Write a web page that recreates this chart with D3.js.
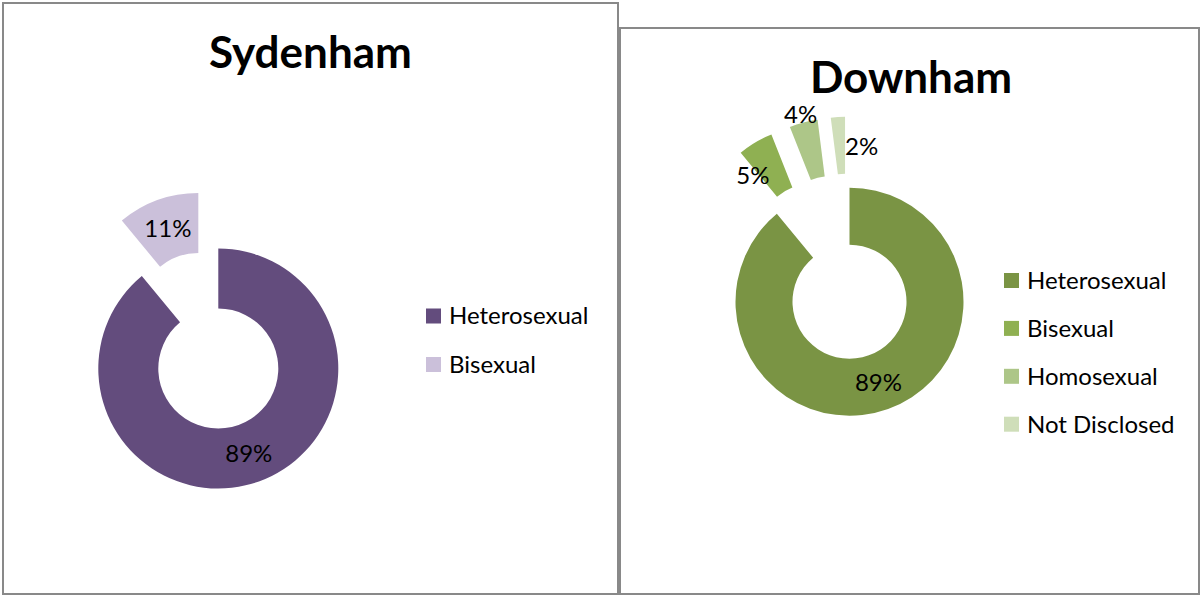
<!DOCTYPE html>
<html>
<head>
<meta charset="utf-8">
<script src="https://cdn.jsdelivr.net/npm/d3@7"></script>
<style>
  body { margin: 0; background: #ffffff; }
  svg { display: block; font-family: Lato, "Open Sans", sans-serif; }
</style>
</head>
<body>
<script>
'use strict';

// Sydenham data
const sydenhamCategories = ["Heterosexual", "Bisexual"];
const sydenhamValues = [89, 11];
const sydenhamColors = ["#634c7d", "#cbc0da"];

// Downham data
const downhamCategories = ["Heterosexual", "Bisexual", "Homosexual", "Not Disclosed"];
const downhamValues = [89, 5, 4, 2];
const downhamColors = ["#7a9444", "#8fb052", "#adc688", "#cfdeb9"];

(function () {

  let svg = d3.select("body")
    .append("svg")
    .attr("width", 1200)
    .attr("height", 595);

  // left panel
  drawPanel({
    box: [3, 3, 615, 591],
    title: "Sydenham",
    titleX: 310.5, titleY: 68,
    categories: sydenhamCategories,
    values: sydenhamValues,
    colors: sydenhamColors,
    cx: 218.3, cy: 368.5, outer: 120, inner: 60,
    explode: [0, 59],
    nudge: [[0, 0], [0, 0]],
    legendX: 426, legendY: 316, legendStep: 48.5
  });

  // right panel
  drawPanel({
    box: [620, 28, 579, 566],
    title: "Downham",
    titleX: 911, titleY: 93,
    categories: downhamCategories,
    values: downhamValues,
    colors: downhamColors,
    cx: 849.5, cy: 301.7, outer: 114, inner: 57,
    explode: [0, 71, 71, 71],
    nudge: [[0, 0], [-17, 9], [-10, -36], [22, 1]],
    legendX: 1004, legendY: 280.5, legendStep: 47.9
  });

  function drawPanel(cfg) {
    // frame
    svg.append("rect")
      .attr("x", cfg.box[0])
      .attr("y", cfg.box[1])
      .attr("width", cfg.box[2])
      .attr("height", cfg.box[3])
      .attr("fill", "#ffffff")
      .attr("stroke", "#898989")
      .attr("stroke-width", 2);

    svg.append("text")
      .attr("x", cfg.titleX)
      .attr("y", cfg.titleY)
      .attr("text-anchor", "middle")
      .style("font-size", "44px")
      .style("font-weight", "bold")
      .text(cfg.title);

    let color = d3.scaleOrdinal()
      .domain(cfg.categories)
      .range(cfg.colors);

    let pie = d3.pie()
      .sort(null)
      .value((d) => d);

    let arcs = pie(cfg.values);
    let total = d3.sum(cfg.values);
    let pct = d3.format(".0%");

    let arc = d3.arc()
      .innerRadius(cfg.inner)
      .outerRadius(cfg.outer);

    // offset of an exploded slice along its middle angle
    let shift = function (d, i) {
      let mid = (d.startAngle + d.endAngle) / 2;
      return [Math.sin(mid) * cfg.explode[i], -Math.cos(mid) * cfg.explode[i]];
    };

    let g = svg.append("g")
      .attr("transform", "translate(" + cfg.cx + "," + cfg.cy + ")");

    g.selectAll(".slice")
      .data(arcs)
      .enter()
      .append("path")
      .attr("class", "slice")
      .attr("transform", (d, i) => "translate(" + shift(d, i) + ")")
      .attr("fill", (d, i) => color(cfg.categories[i]))
      .attr("d", arc);

    g.selectAll(".lbl")
      .data(arcs)
      .enter()
      .append("text")
      .attr("class", "lbl")
      .attr("transform", function (d, i) {
        let c = arc.centroid(d);
        let s = shift(d, i);
        return "translate(" + (c[0] + s[0] + cfg.nudge[i][0]) + "," + (c[1] + s[1] + cfg.nudge[i][1]) + ")";
      })
      .attr("text-anchor", "middle")
      .attr("dy", "0.35em")
      .style("font-size", "24px")
      .attr("fill", "#000000")
      .text((d) => pct(d.data / total));

    // legend
    let legend = svg.selectAll(null)
      .data(cfg.categories)
      .enter()
      .append("g")
      .attr("transform", (d, i) => "translate(" + cfg.legendX + "," + (cfg.legendY + i * cfg.legendStep) + ")");

    legend.append("rect")
      .attr("x", 0)
      .attr("y", -7.5)
      .attr("width", 15)
      .attr("height", 15)
      .attr("fill", (d) => color(d));

    legend.append("text")
      .attr("x", 23)
      .attr("dy", "0.35em")
      .style("font-size", "24px")
      .text((d) => d);
  }

})();
</script>
</body>
</html>
